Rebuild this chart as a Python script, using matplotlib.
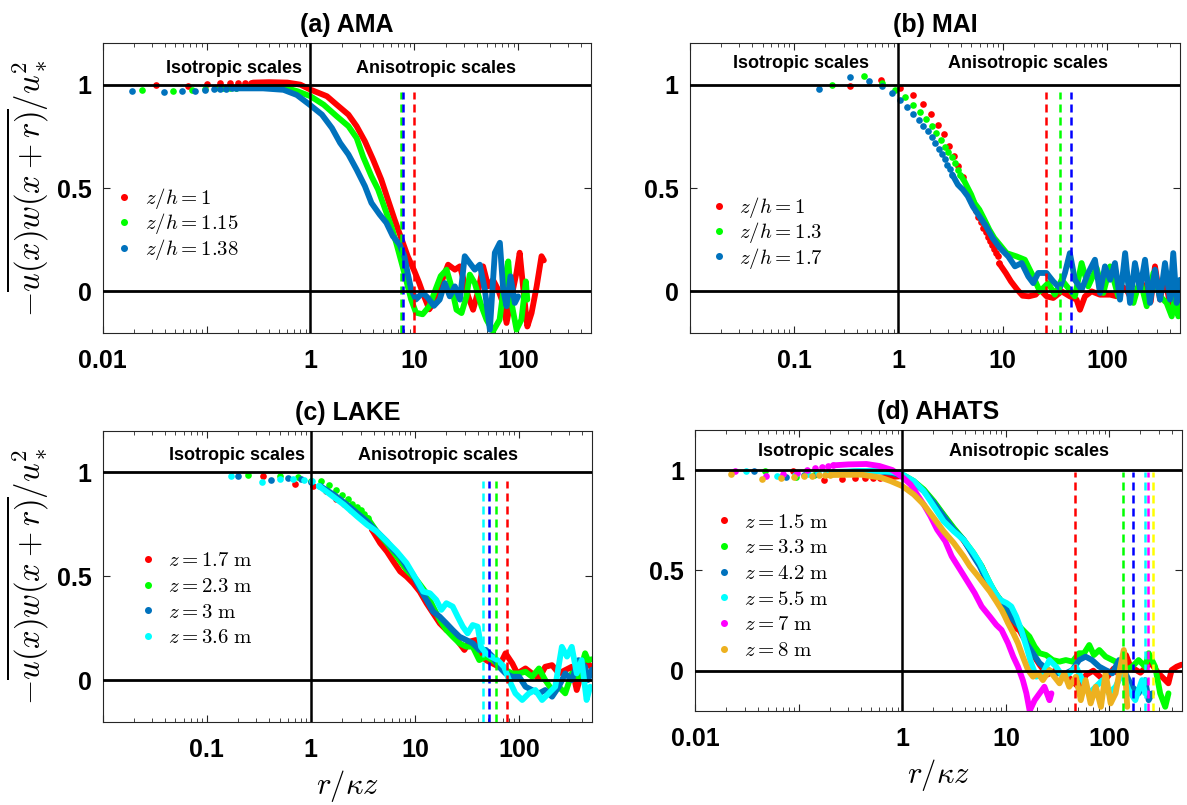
import matplotlib
matplotlib.use("Agg")
import matplotlib.pyplot as plt
from matplotlib.ticker import FixedLocator, LogLocator, NullFormatter

plt.rcParams["font.family"] = ["Liberation Sans", "DejaVu Sans"]
plt.rcParams["mathtext.fontset"] = "cm"

RED, GREEN, BLUE = "#ff0000", "#00ff00", "#0072bd"
CYAN, MAGENTA, ORANGE = "#00ffff", "#ff00ff", "#edb120"
PURE_BLUE, YELLOW = "#0000ff", "#ffff00"

# ---------------- (a) AMA ----------------
A_RED_DOT_R = [0.033, 0.067, 0.100, 0.134, 0.167, 0.200, 0.234, 0.267]
A_RED_DOT_V = [1.000, 0.995, 1.005, 1.008, 1.010, 1.010, 1.010, 1.010]
A_RED_R = [0.28, 0.40, 0.60, 0.80, 1.00, 1.44, 1.79, 2.32, 2.78, 3.34, 4.00, 4.80, 5.56, 6.44, 7.45,
           8.60, 10.0, 11.1, 12.0, 13.9, 16.0, 18.6, 21.1, 24.5, 27.4, 32.9, 36.7, 41.0, 45.8, 51.3,
           57.0, 64.0, 71.0, 77.0, 86.0, 96.0, 103, 111, 122, 134, 150, 167, 176]
A_RED_V = [1.010, 1.012, 1.010, 1.000, 0.976, 0.944, 0.903, 0.855, 0.799, 0.726, 0.638, 0.541, 0.444,
           0.348, 0.259, 0.171, 0.098, 0.042, -0.006, -0.087, -0.040, 0.058, 0.129, 0.105, 0.121,
           -0.024, -0.089, 0.000, 0.121, 0.024, 0.056, 0.008, -0.056, -0.153, -0.024, 0.090, 0.187,
           0.024, -0.170, -0.105, 0.024, 0.170, 0.150]
A_GRN_DOT_R = [0.024, 0.048, 0.072, 0.096, 0.120, 0.143, 0.167, 0.191, 0.215]
A_GRN_DOT_V = [0.973, 0.968, 0.976, 0.980, 0.983, 0.985, 0.985, 0.986, 0.987]
A_GRN_R = [0.215, 0.40, 0.60, 0.75, 1.00, 1.34, 1.79, 2.32, 2.78, 3.22, 3.86, 4.47, 5.17, 5.98, 6.68,
           7.45, 8.30, 9.30, 10.35, 12.0, 14.0, 16.0, 17.9, 20.4, 22.7, 25.4, 28.4, 31.7, 34.1, 38.1,
           44.2, 49.4, 57.0, 66.0, 74.0, 80.0, 86.0, 96.0, 107, 118, 122]
A_GRN_V = [0.987, 0.988, 0.982, 0.968, 0.944, 0.903, 0.847, 0.799, 0.742, 0.650, 0.557, 0.493, 0.404,
           0.316, 0.235, 0.147, 0.058, -0.039, -0.103, -0.111, -0.070, 0.010, 0.074, 0.105, 0.024,
           -0.089, -0.105, -0.024, 0.081, 0.040, -0.072, -0.137, -0.193, -0.137, 0.056, 0.145,
           -0.056, -0.185, -0.137, 0.048, -0.040]
A_BLU_DOT_R = [0.019, 0.039, 0.058, 0.078, 0.097, 0.117, 0.136, 0.155, 0.175, 0.194]
A_BLU_DOT_V = [0.968, 0.963, 0.968, 0.971, 0.976, 0.979, 0.980, 0.981, 0.982, 0.982]
A_BLU_R = [0.194, 0.35, 0.55, 0.74, 1.00, 1.29, 1.61, 1.93, 2.32, 2.78, 3.34, 3.86, 4.63, 5.37, 6.20,
           7.20, 8.00, 8.60, 9.30, 10.35, 12.0, 13.4, 15.4, 17.5, 19.6, 21.9, 24.5, 27.4, 30.5, 34.1,
           38.1, 42.6, 47.6, 53.2, 59.4, 66.4, 71.5, 77.0, 84.0, 92.5, 99.5]
A_BLU_V = [0.982, 0.982, 0.975, 0.950, 0.900, 0.855, 0.790, 0.718, 0.662, 0.589, 0.509, 0.428, 0.372,
           0.332, 0.267, 0.227, 0.171, 0.090, 0.010, -0.039, -0.006, -0.030, -0.070, -0.040, 0.040,
           -0.024, 0.024, -0.040, 0.170, 0.137, 0.105, 0.129, 0.008, -0.185, 0.187, 0.235, 0.008,
           -0.072, 0.073, -0.056, -0.024]
A_LABELS = [r"$z/h = 1$", r"$z/h = 1.15$", r"$z/h = 1.38$"]
A_DASH_R = [9.9, 7.45, 7.7]

# ---------------- (b) MAI ----------------
B_RED_DOT_R = [0.343, 0.686, 1.03, 1.37, 1.71, 2.06, 2.40, 2.74, 3.09, 3.43, 3.77, 4.12, 4.46, 4.80,
               5.15, 5.49, 5.83, 6.17, 6.52, 6.86, 7.20, 7.55, 7.89, 8.23, 8.58, 8.92, 9.26]
B_RED_DOT_V = [0.992, 1.024, 0.985, 0.952, 0.906, 0.860, 0.806, 0.762, 0.703, 0.654, 0.608, 0.553,
               0.502, 0.470, 0.430, 0.388, 0.358, 0.335, 0.305, 0.285, 0.262, 0.243, 0.225, 0.205,
               0.188, 0.170, 0.135]
B_RED_R = [9.26, 10.7, 12.0, 13.8, 15.5, 17.8, 20.7, 22.8, 26.3, 30.5, 36.7, 44.0, 51.0, 55.0, 61.4,
           71.0, 85.5, 107, 124, 133, 154, 172, 192, 212, 240, 262, 288, 322, 350, 372, 400, 431, 462, 500]
B_RED_V = [0.135, 0.089, 0.048, 0.008, -0.021, -0.024, -0.016, 0.008, -0.024, -0.032, 0.000, -0.024,
           -0.040, -0.089, -0.024, 0.000, -0.016, -0.016, -0.024, 0.030, 0.008, -0.040, 0.000, 0.050,
           -0.024, -0.050, 0.121, -0.040, 0.060, 0.024, -0.060, 0.008, 0.050, 0.040]
B_GRN_DOT_R = [0.232, 0.464, 0.696, 0.928, 1.16, 1.39, 1.62, 1.86, 2.09, 2.32, 2.55, 2.78, 3.02, 3.25,
               3.48, 3.71, 3.94]
B_GRN_DOT_V = [0.997, 1.040, 1.008, 0.976, 0.940, 0.903, 0.866, 0.834, 0.798, 0.766, 0.730, 0.700,
               0.672, 0.648, 0.620, 0.589, 0.562]
B_GRN_R = [3.94, 4.30, 4.63, 4.99, 5.37, 5.98, 6.68, 7.45, 8.30, 9.40, 10.9, 13.6, 16.3, 19.6, 22.7,
           27.3, 31.6, 36.7, 42.5, 49.2, 57.0, 66.0, 79.4, 92.0, 107, 128, 149, 179, 207, 240, 278,
           322, 372, 417, 448, 482, 500]
B_GRN_V = [0.562, 0.532, 0.500, 0.468, 0.427, 0.395, 0.347, 0.298, 0.258, 0.225, 0.185, 0.169, 0.153,
           0.072, 0.000, 0.040, -0.016, 0.056, 0.016, -0.024, 0.137, 0.024, 0.113, -0.008, 0.121,
           -0.024, 0.121, -0.056, 0.056, -0.072, 0.089, -0.024, -0.056, -0.121, -0.024, -0.121, -0.040]
B_BLU_DOT_R = [0.173, 0.347, 0.520, 0.694, 0.867, 1.04, 1.21, 1.39, 1.56, 1.73, 1.91, 2.08, 2.25,
               2.43, 2.60, 2.77, 2.95, 3.12, 3.29]
B_BLU_DOT_V = [0.979, 1.037, 1.019, 0.992, 0.960, 0.924, 0.892, 0.860, 0.830, 0.800, 0.774, 0.747,
               0.718, 0.690, 0.666, 0.640, 0.613, 0.590, 0.565]
B_BLU_R = [3.29, 3.72, 4.15, 4.63, 5.17, 5.98, 6.93, 8.00, 9.40, 11.3, 13.1, 15.2, 17.6, 19.6, 21.9,
           26.3, 30.5, 35.3, 39.5, 44.0, 49.2, 57.0, 66.0, 76.5, 85.5, 95.5, 107, 119, 133, 149, 166,
           185, 207, 231, 258, 288, 322, 359, 401, 431, 464, 500]
B_BLU_V = [0.565, 0.516, 0.492, 0.460, 0.411, 0.363, 0.315, 0.258, 0.210, 0.169, 0.121, 0.137, 0.072,
           0.040, 0.089, 0.089, 0.048, 0.016, 0.089, 0.185, 0.056, 0.008, 0.089, 0.153, -0.008, 0.121,
           0.056, 0.137, -0.040, 0.185, -0.056, 0.137, 0.008, 0.153, -0.056, 0.105, -0.040, 0.137,
           -0.040, 0.185, -0.056, 0.056]
B_LABELS = [r"$z/h = 1$", r"$z/h = 1.3$", r"$z/h = 1.7$"]
B_DASH_R = [25.9, 35.3, 45.0]

# ---------------- (c) LAKE ----------------
C_RED_DOT_R = [0.35, 0.70, 1.05, 1.40, 1.75, 2.10, 2.45, 2.80, 3.15, 3.50, 3.85]
C_RED_DOT_V = [0.982, 0.942, 0.934, 0.908, 0.873, 0.846, 0.820, 0.800, 0.778, 0.752, 0.725]
C_RED_R = [3.85, 4.63, 5.37, 6.20, 7.20, 8.30, 9.60, 11.1, 12.9, 14.9, 17.3, 20.0, 23.0, 26.7, 29.8,
           33.3, 38.5, 43.0, 48.0, 55.5, 64.0, 74.0, 86.0, 96.0, 115, 133, 155, 178, 207, 240, 277,
           320, 357, 398, 458, 500]
C_RED_V = [0.725, 0.659, 0.619, 0.571, 0.523, 0.498, 0.466, 0.426, 0.370, 0.322, 0.273, 0.241, 0.225,
           0.177, 0.145, 0.185, 0.193, 0.120, 0.096, 0.080, 0.064, 0.129, 0.080, 0.032, 0.056, 0.032,
           0.008, 0.064, 0.072, 0.032, 0.048, 0.064, -0.048, 0.032, 0.080, 0.060]
C_GRN_DOT_R = [0.25, 0.50, 0.75, 1.00, 1.25, 1.50, 1.75, 2.00, 2.25, 2.50, 2.75, 3.00, 3.25, 3.50]
C_GRN_DOT_V = [0.987, 0.982, 0.979, 0.960, 0.957, 0.940, 0.915, 0.893, 0.872, 0.850, 0.833, 0.820,
               0.800, 0.780]
C_GRN_R = [3.50, 4.30, 5.37, 6.68, 8.30, 10.35, 12.9, 14.9, 17.3, 20.0, 23.0, 26.7, 31.0, 35.8, 41.4,
           48.0, 55.5, 64.0, 74.0, 86.0, 100, 115, 133, 155, 178, 207, 240, 277, 320, 372, 430, 458, 500]
C_GRN_V = [0.780, 0.715, 0.659, 0.595, 0.530, 0.482, 0.418, 0.354, 0.289, 0.241, 0.209, 0.177, 0.161,
           0.161, 0.096, 0.113, 0.096, 0.072, 0.048, 0.032, 0.032, 0.040, 0.016, 0.056, 0.000, -0.048,
           -0.032, -0.064, 0.032, 0.016, 0.129, 0.096, 0.100]
C_BLU_DOT_R = [0.20, 0.41, 0.61, 0.81, 1.01, 1.22]
C_BLU_DOT_V = [0.982, 0.963, 0.971, 0.970, 0.955, 0.935]
C_BLU_R = [1.22, 1.67, 2.23, 2.78, 3.46, 4.30, 5.37, 6.20, 7.20, 8.30, 9.60, 11.1, 12.9, 14.9, 17.3,
           20.0, 23.0, 26.7, 31.0, 35.8, 41.4, 48.0, 55.5, 64.0, 74.0, 86.0, 100, 115, 133, 155, 178,
           207, 240, 277, 320, 372, 430, 458, 500]
C_BLU_V = [0.935, 0.892, 0.844, 0.804, 0.764, 0.715, 0.667, 0.627, 0.595, 0.547, 0.506, 0.442, 0.386,
           0.330, 0.305, 0.273, 0.241, 0.209, 0.193, 0.177, 0.145, 0.145, 0.113, 0.064, 0.032, 0.016,
           0.016, -0.032, -0.048, -0.064, -0.048, -0.080, -0.032, 0.032, 0.000, 0.096, 0.064, 0.000,
           0.050]
C_CYN_DOT_R = [0.17, 0.34, 0.51, 0.68, 0.85, 1.02, 1.19]
C_CYN_DOT_V = [0.982, 0.955, 0.966, 0.970, 0.963, 0.957, 0.935]
C_CYN_R = [1.19, 1.55, 2.08, 2.78, 3.46, 4.30, 5.37, 6.68, 8.30, 10.35, 12.0, 13.9, 16.0, 17.9, 20.0,
           23.0, 25.7, 28.8, 32.0, 35.8, 40.0, 43.0, 48.0, 53.5, 62.0, 71.6, 80.0, 92.0, 107, 124,
           143, 166, 192, 222, 257, 288, 320, 357, 398, 444, 480]
C_CYN_V = [0.935, 0.892, 0.844, 0.788, 0.748, 0.715, 0.667, 0.619, 0.563, 0.482, 0.426, 0.418, 0.386,
           0.338, 0.370, 0.354, 0.305, 0.257, 0.225, 0.265, 0.257, 0.160, 0.129, 0.113, 0.096, 0.064,
           0.000, -0.064, -0.096, -0.064, -0.048, -0.096, -0.064, -0.032, 0.160, 0.113, 0.160, 0.032,
           0.096, -0.096, -0.032]
C_LABELS = [r"$z = 1.7\ \mathrm{m}$", r"$z = 2.3\ \mathrm{m}$", r"$z = 3\ \mathrm{m}$",
            r"$z = 3.6\ \mathrm{m}$"]
C_DASH_R = [76.0, 60.0, 51.0, 44.8]

# ---------------- (d) AHATS ----------------
D_RED_DOT_R = [0.087, 0.175, 0.262, 0.350, 0.437, 0.524, 0.612]
D_RED_DOT_V = [0.997, 0.950, 0.954, 0.958, 0.958, 0.958, 0.960]
D_RED_R = [0.612, 0.80, 1.00, 1.29, 1.61, 2.01, 2.50, 3.13, 3.90, 4.86, 5.84, 7.00, 8.10, 9.40, 10.9,
           11.8, 13.6, 15.8, 18.3, 21.2, 25.0, 30.0, 40.0, 50.0, 60.0, 70.0, 90.0, 110, 130, 145, 160,
           200, 250, 299, 347, 372, 400, 448, 500]
D_RED_V = [0.960, 0.965, 0.970, 0.940, 0.900, 0.840, 0.775, 0.708, 0.650, 0.578, 0.520, 0.430, 0.380,
           0.330, 0.280, 0.220, 0.200, 0.140, 0.080, 0.030, -0.020, 0.000, -0.030, -0.080, -0.020,
           0.000, -0.050, 0.010, -0.030, 0.078, 0.020, -0.010, 0.040, -0.013, -0.047, -0.063, 0.003,
           0.020, 0.030]
D_GRN_DOT_R = [0.047, 0.094, 0.140, 0.187, 0.234]
D_GRN_DOT_V = [0.997, 0.967, 0.975, 0.980, 0.985]
D_GRN_R = [0.234, 0.40, 0.60, 0.80, 1.00, 1.29, 1.61, 2.01, 2.50, 3.13, 3.90, 4.86, 5.84, 7.00, 8.10,
           9.40, 10.9, 12.6, 14.6, 16.9, 19.0, 21.2, 24.5, 28.4, 33.0, 38.0, 44.0, 51.0, 57.0, 64.0,
           71.0, 80.0, 92.0, 107, 124, 143, 166, 192, 222, 240, 277, 310, 347, 373]
D_GRN_V = [0.985, 0.995, 0.997, 0.990, 0.978, 0.945, 0.903, 0.845, 0.778, 0.712, 0.653, 0.587, 0.520,
           0.437, 0.378, 0.337, 0.287, 0.237, 0.203, 0.170, 0.120, 0.087, 0.078, 0.053, 0.045, 0.053,
           0.045, 0.087, 0.087, 0.128, 0.078, 0.103, 0.070, 0.053, 0.037, 0.003, 0.020, 0.053, 0.020,
           0.087, 0.020, -0.113, -0.180, -0.113]
D_BLU_DOT_R = [0.037, 0.075, 0.112, 0.150, 0.187, 0.224]
D_BLU_DOT_V = [0.997, 0.967, 0.975, 0.980, 0.985, 0.988]
D_BLU_R = [0.224, 0.40, 0.60, 0.80, 1.00, 1.29, 1.61, 2.01, 2.50, 3.13, 3.90, 4.86, 5.60, 6.50, 7.60,
           8.80, 10.2, 11.8, 13.6, 15.8, 18.3, 21.2, 24.5, 28.4, 33.0, 38.0, 44.0, 51.0, 59.0, 68.0,
           80.0, 92.0, 107, 124, 143, 166, 192, 222, 240, 259]
D_BLU_V = [0.988, 0.993, 0.993, 0.985, 0.970, 0.937, 0.895, 0.837, 0.770, 0.703, 0.653, 0.570, 0.520,
           0.450, 0.387, 0.353, 0.320, 0.253, 0.220, 0.137, 0.087, 0.037, 0.012, -0.013, -0.013,
           -0.013, 0.003, 0.053, 0.070, 0.053, 0.020, 0.003, -0.013, 0.053, -0.013, -0.080, -0.113,
           -0.047, -0.147, -0.113]
D_CYN_DOT_R = [0.031, 0.061, 0.092, 0.122, 0.153, 0.184, 0.214]
D_CYN_DOT_V = [0.997, 0.972, 0.975, 0.980, 0.985, 0.987, 0.990]
D_CYN_R = [0.214, 0.40, 0.60, 0.80, 1.00, 1.29, 1.61, 2.01, 2.50, 3.13, 3.90, 4.86, 5.60, 6.50, 7.60,
           8.80, 10.2, 11.3, 12.6, 14.1, 15.8, 17.6, 19.7, 22.8, 26.4, 30.6, 35.5, 41.0, 47.6, 55.0,
           64.0, 74.0, 86.0, 99.0, 115, 133, 154, 178, 207, 222]
D_CYN_V = [0.990, 0.995, 0.995, 0.990, 0.978, 0.945, 0.895, 0.820, 0.745, 0.695, 0.653, 0.587, 0.537,
           0.470, 0.403, 0.353, 0.337, 0.320, 0.270, 0.203, 0.120, 0.037, -0.030, -0.013, 0.053,
           0.020, -0.030, -0.013, 0.020, -0.047, -0.113, -0.080, -0.047, -0.113, -0.080, -0.013,
           -0.097, -0.147, -0.047, -0.113]
D_MAG_DOT_R = [0.024, 0.048, 0.071, 0.095, 0.119, 0.143, 0.167, 0.190, 0.214]
D_MAG_DOT_V = [0.997, 0.970, 0.980, 0.987, 1.000, 1.008, 1.013, 1.020, 1.023]
D_MAG_R = [0.214, 0.30, 0.45, 0.60, 0.80, 1.00, 1.20, 1.39, 1.61, 1.87, 2.17, 2.60, 3.00, 3.62, 4.35,
           5.00, 5.84, 7.00, 8.10, 9.10, 10.5, 11.8, 13.1, 14.6, 15.8, 17.0, 19.0, 21.2, 23.6, 26.4,
           27.6]
D_MAG_V = [1.023, 1.028, 1.030, 1.020, 1.000, 0.965, 0.928, 0.878, 0.828, 0.770, 0.703, 0.645, 0.570,
           0.503, 0.437, 0.387, 0.320, 0.270, 0.228, 0.203, 0.137, 0.070, 0.020, -0.047, -0.113,
           -0.200, -0.147, -0.113, -0.080, -0.147, -0.113]
D_ORG_DOT_R = [0.022, 0.044, 0.067, 0.089, 0.111, 0.133, 0.155, 0.178, 0.200]
D_ORG_DOT_V = [0.980, 0.954, 0.958, 0.963, 0.970, 0.970, 0.973, 0.975, 0.975]
D_ORG_R = [0.200, 0.40, 0.62, 0.77, 1.00, 1.29, 1.61, 2.01, 2.50, 3.13, 3.90, 4.50, 5.25, 6.05, 7.00,
           8.10, 9.10, 9.80, 10.5, 11.8, 13.1, 14.6, 16.4, 18.3, 20.4, 22.8, 26.4, 29.4, 33.0, 36.7,
           41.0, 47.6, 53.0, 59.0, 66.0, 74.0, 83.0, 92.0, 103, 115, 128, 138, 149]
D_ORG_V = [0.975, 0.977, 0.962, 0.945, 0.920, 0.878, 0.828, 0.762, 0.695, 0.637, 0.570, 0.520, 0.478,
           0.437, 0.395, 0.345, 0.303, 0.270, 0.237, 0.187, 0.137, 0.070, 0.003, -0.030, -0.013,
           -0.047, 0.003, -0.030, -0.063, -0.013, -0.080, -0.030, -0.147, -0.047, -0.163, -0.080,
           -0.180, -0.013, -0.163, -0.113, 0.020, 0.103, -0.180]
D_LABELS = [r"$z = 1.5\ \mathrm{m}$", r"$z = 3.3\ \mathrm{m}$", r"$z = 4.2\ \mathrm{m}$",
            r"$z = 5.5\ \mathrm{m}$", r"$z = 7\ \mathrm{m}$", r"$z = 8\ \mathrm{m}$"]
D_DASH_R = [46.5, 137, 169, 221, 234, 266]

YLABEL = r"$-\overline{u(x)w(x+r)}/u_*^2$"
XLABEL = r"$r/\kappa z$"


def draw_panel(ax, series, labels, dash_r, dash_c, dash_top, title, xlabs, leg_xy, leg_sp,
               iso_xy, aniso_xy):
    handles = []
    for (c, dr, dv, lr, lv), lab in zip(series, labels):
        h, = ax.plot(dr, dv, "o", ms=4.8, mec="none", color=c, label=lab, zorder=2)
        ax.plot(lr, lv, "-", lw=4.2, color=c, solid_joinstyle="round", solid_capstyle="round", zorder=2)
        handles.append(h)

    ax.vlines(dash_r, -0.2, dash_top, colors=dash_c, linestyles=(0, (3.2, 2.0)), lw=1.8, zorder=4)
    ax.axhline(1, color="k", lw=2.0, zorder=5)
    ax.axhline(0, color="k", lw=2.0, zorder=5)
    ax.axvline(1, color="k", lw=1.8, zorder=5)

    ax.set_xscale("log")
    ax.set_xlim(0.01, 500)
    ax.set_ylim(-0.2, 1.2)
    majors = [0.01, 0.1, 1, 10, 100]
    ax.xaxis.set_major_locator(FixedLocator(majors))
    ax.set_xticklabels([t if t in xlabs else "" for t in ["0.01", "0.1", "1", "10", "100"]])
    ax.xaxis.set_minor_locator(LogLocator(base=10, subs=range(2, 10)))
    ax.xaxis.set_minor_formatter(NullFormatter())
    ax.set_yticks([0, 0.5, 1])
    ax.set_yticklabels(["0", "0.5", "1"])
    ax.tick_params(which="both", direction="in", top=True, right=True, color="#262626")
    ax.tick_params(which="major", length=5, width=0.8, labelsize=18)
    ax.tick_params(which="minor", length=3, width=0.6)
    ax.tick_params(axis="x", pad=12)
    ax.tick_params(axis="y", pad=8)
    for lab in ax.get_xticklabels() + ax.get_yticklabels():
        lab.set_fontweight("bold")
    for sp in ax.spines.values():
        sp.set_linewidth(0.8)
        sp.set_color("#262626")

    ax.set_title(title, fontsize=18, fontweight="bold", pad=8)
    ax.text(iso_xy[0], iso_xy[1], "Isotropic scales", ha="center", va="center",
            fontsize=13, fontweight="bold")
    ax.text(aniso_xy[0], aniso_xy[1], "Anisotropic scales", ha="center", va="center",
            fontsize=13, fontweight="bold")
    ax.legend(handles=handles, loc="center left", bbox_to_anchor=leg_xy, frameon=False,
              fontsize=15, handlelength=0.55, handletextpad=0.7, labelspacing=leg_sp,
              borderaxespad=0, borderpad=0, markerscale=1.05)


fig = plt.figure(figsize=(11.87, 8.05), dpi=100)
ax_a = fig.add_axes([0.0864, 0.5867, 0.4115, 0.3595])
ax_b = fig.add_axes([0.5810, 0.5867, 0.4131, 0.3595])
ax_c = fig.add_axes([0.0864, 0.1036, 0.4123, 0.3612])
ax_d = fig.add_axes([0.5858, 0.1170, 0.4097, 0.3490])

draw_panel(ax_a,
           [(RED, A_RED_DOT_R, A_RED_DOT_V, A_RED_R, A_RED_V),
            (GREEN, A_GRN_DOT_R, A_GRN_DOT_V, A_GRN_R, A_GRN_V),
            (BLUE, A_BLU_DOT_R, A_BLU_DOT_V, A_BLU_R, A_BLU_V)],
           A_LABELS, A_DASH_R, [RED, GREEN, PURE_BLUE], 0.966, "(a) AMA",
           ["0.01", "1", "10", "100"], (0.033, 0.376), 0.02, (0.183, 1.08), (16.2, 1.08))

draw_panel(ax_b,
           [(RED, B_RED_DOT_R, B_RED_DOT_V, B_RED_R, B_RED_V),
            (GREEN, B_GRN_DOT_R, B_GRN_DOT_V, B_GRN_R, B_GRN_V),
            (BLUE, B_BLU_DOT_R, B_BLU_DOT_V, B_BLU_R, B_BLU_V)],
           B_LABELS, B_DASH_R, [RED, GREEN, PURE_BLUE], 0.963, "(b) MAI",
           ["0.1", "1", "10", "100"], (0.048, 0.345), 0.02, (0.117, 1.10), (17.3, 1.10))

draw_panel(ax_c,
           [(RED, C_RED_DOT_R, C_RED_DOT_V, C_RED_R, C_RED_V),
            (GREEN, C_GRN_DOT_R, C_GRN_DOT_V, C_GRN_R, C_GRN_V),
            (BLUE, C_BLU_DOT_R, C_BLU_DOT_V, C_BLU_R, C_BLU_V),
            (CYAN, C_CYN_DOT_R, C_CYN_DOT_V, C_CYN_R, C_CYN_V)],
           C_LABELS, C_DASH_R, [RED, GREEN, PURE_BLUE, CYAN], 0.957, "(c) LAKE",
           ["0.1", "1", "10", "100"], (0.081, 0.421), 0.32, (0.195, 1.08), (16.7, 1.08))

draw_panel(ax_d,
           [(RED, D_RED_DOT_R, D_RED_DOT_V, D_RED_R, D_RED_V),
            (GREEN, D_GRN_DOT_R, D_GRN_DOT_V, D_GRN_R, D_GRN_V),
            (BLUE, D_BLU_DOT_R, D_BLU_DOT_V, D_BLU_R, D_BLU_V),
            (CYAN, D_CYN_DOT_R, D_CYN_DOT_V, D_CYN_R, D_CYN_V),
            (MAGENTA, D_MAG_DOT_R, D_MAG_DOT_V, D_MAG_R, D_MAG_V),
            (ORANGE, D_ORG_DOT_R, D_ORG_DOT_V, D_ORG_R, D_ORG_V)],
           D_LABELS, D_DASH_R, [RED, GREEN, PURE_BLUE, CYAN, MAGENTA, YELLOW], 0.99, "(d) AHATS",
           ["0.01", "1", "10", "100"], (0.047, 0.443), 0.32, (0.183, 1.09), (16.6, 1.09))

for ax in (ax_a, ax_c):
    ax.set_ylabel(YLABEL, fontsize=23.5, labelpad=5)
for ax in (ax_c, ax_d):
    ax.set_xlabel(XLABEL, fontsize=22, labelpad=4)

fig.savefig("out.png", dpi=100)
